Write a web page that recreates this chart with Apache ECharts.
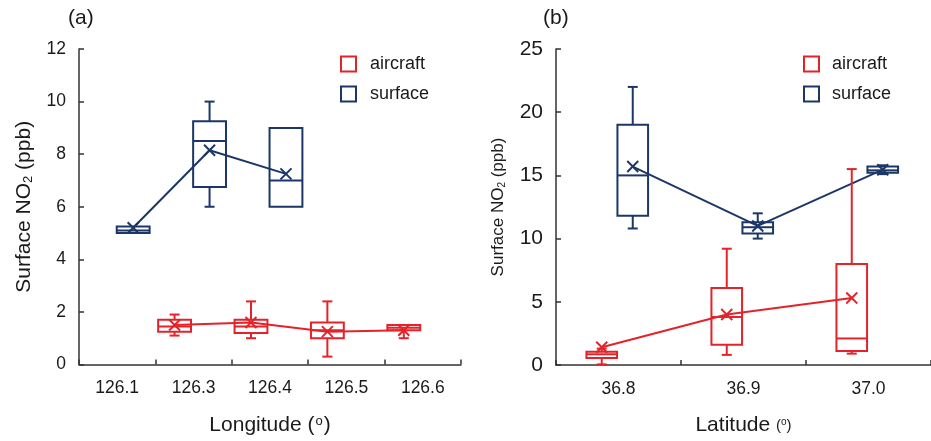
<!DOCTYPE html>
<html><head><meta charset="utf-8">
<script src="https://cdn.jsdelivr.net/npm/echarts@6/dist/echarts.min.js"></script>
<style>html,body{margin:0;padding:0;background:#fff}#c{width:931px;height:441px}</style>
</head><body><div id="c"></div>
<script>
// ---------- data ----------
const lonCategories = ['126.1', '126.3', '126.4', '126.5', '126.6'];
// box: [min, q1, median, q3, max]
const lonAircraftBox = [null, [1.1, 1.25, 1.45, 1.7, 1.9], [1.0, 1.2, 1.45, 1.7, 2.4], [0.3, 1.0, 1.3, 1.6, 2.4], [1.0, 1.3, 1.4, 1.5, 1.5]];
const lonAircraftMean = [null, 1.5, 1.6, 1.25, 1.3];
const lonSurfaceBox = [[5.0, 5.0, 5.1, 5.25, 5.25], [6.0, 6.75, 8.5, 9.25, 10.0], [6.0, 6.0, 7.0, 9.0, 9.0], null, null];
const lonSurfaceMean = [5.2, 8.15, 7.25, null, null];

const latCategories = ['36.8', '36.9', '37.0'];
const latAircraftBox = [[0.05, 0.55, 0.85, 1.05, 1.3], [0.8, 1.6, 3.8, 6.1, 9.2], [0.9, 1.1, 2.1, 8.0, 15.5]];
const latAircraftMean = [1.4, 4.0, 5.3];
const latSurfaceBox = [[10.8, 11.8, 15.0, 19.0, 22.0], [10.0, 10.4, 10.9, 11.3, 12.0], [15.1, 15.2, 15.4, 15.7, 15.8]];
const latSurfaceMean = [15.7, 11.0, 15.45];

const lonYMax = 12, lonYStep = 2;
const latYMax = 25, latYStep = 5;

// ---------- style ----------
const RED = '#e3232a';
const BLUE = '#1b3667';
const AXIS = '#333';
const TEXT = '#1a1a1a';
const FONT = "'Liberation Sans', Arial, sans-serif";

function boxData(boxes, means) {
  const out = [];
  boxes.forEach((b, i) => { if (b) out.push([i].concat(b, [means[i]])); });
  return out;
}
function meanData(means, off) {
  const out = [];
  means.forEach((m, i) => { if (m != null) out.push([i + off, m]); });
  return out;
}
function boxRender(off, widthFrac, color) {
  return function (params, api) {
    const i = api.value(0);
    const mn = api.value(1), q1 = api.value(2), md = api.value(3), q3 = api.value(4), mx = api.value(5), mean = api.value(6);
    const cx = api.coord([i + off, 0])[0];
    const w = api.size([widthFrac, 0])[0];
    const Y = v => api.coord([i + off, v])[1];
    const st = { stroke: color, lineWidth: 2, fill: null };
    const cap = 5;
    const ch = [];
    if (mx > q3) {
      ch.push({ type: 'line', shape: { x1: cx, y1: Y(q3), x2: cx, y2: Y(mx) }, style: st });
      ch.push({ type: 'line', shape: { x1: cx - cap, y1: Y(mx), x2: cx + cap, y2: Y(mx) }, style: st });
    }
    if (mn < q1) {
      ch.push({ type: 'line', shape: { x1: cx, y1: Y(q1), x2: cx, y2: Y(mn) }, style: st });
      ch.push({ type: 'line', shape: { x1: cx - cap, y1: Y(mn), x2: cx + cap, y2: Y(mn) }, style: st });
    }
    ch.push({ type: 'rect', shape: { x: cx - w / 2, y: Y(q3), width: w, height: Y(q1) - Y(q3) }, style: st });
    ch.push({ type: 'line', shape: { x1: cx - w / 2, y1: Y(md), x2: cx + w / 2, y2: Y(md) }, style: st });
    const s = 5.5, my = Y(mean);
    ch.push({ type: 'line', shape: { x1: cx - s, y1: my - s, x2: cx + s, y2: my + s }, style: st });
    ch.push({ type: 'line', shape: { x1: cx - s, y1: my + s, x2: cx + s, y2: my - s }, style: st });
    return { type: 'group', children: ch };
  };
}

// layout constants (category fractions)
const lonOff = { aircraft: -0.249, surface: 0.209 }, lonW = 0.43;
const latOff = { aircraft: -0.134, surface: 0.114 }, latW = 0.245;

function catAxis(grid, cats, nameText, rich) {
  return {
    gridIndex: grid, type: 'category', data: cats, boundaryGap: true,
    axisLine: { show: true, onZero: false, lineStyle: { color: AXIS, width: 1.5 } },
    axisTick: { show: true, inside: true, length: 5, lineStyle: { color: AXIS, width: 1.5 } },
    axisLabel: { fontSize: 17.5, color: TEXT, margin: 15, fontFamily: FONT },
    splitLine: { show: false },
    name: nameText, nameLocation: 'middle', nameGap: 50,
    nameTextStyle: { fontSize: 21, color: TEXT, fontFamily: FONT, rich: rich }
  };
}
function valAxis(grid, max, step, fs, nameSize, gap) {
  return {
    gridIndex: grid, type: 'value', min: 0, max: max, interval: step,
    axisLine: { show: true, onZero: false, lineStyle: { color: AXIS, width: 1.5 } },
    axisTick: { show: true, inside: true, length: 5, lineStyle: { color: AXIS, width: 1.5 } },
    axisLabel: { fontSize: fs, color: TEXT, margin: 13, fontFamily: FONT },
    splitLine: { show: false },
    name: 'Surface NO{sub|2} (ppb)', nameLocation: 'middle', nameGap: gap, nameMoveOverlap: false,
    nameTextStyle: {
      fontSize: nameSize, color: TEXT, fontFamily: FONT,
      rich: { sub: { fontSize: Math.round(nameSize * 0.6), fontFamily: FONT, color: TEXT, padding: [Math.round(nameSize * 0.45), 0, 0, 0] } }
    }
  };
}

const chart = echarts.init(document.getElementById('c'), null, { renderer: 'canvas' });
const legendItem = (name, color) => ({ name: name, itemStyle: { color: 'rgba(0,0,0,0)', borderColor: color, borderWidth: 2 } });

chart.setOption({
  backgroundColor: '#fff',
  animation: false,
  textStyle: { fontFamily: FONT },
  grid: [
    { left: 79, top: 49, width: 382, height: 316 },
    { left: 556, top: 49, width: 382, height: 316 }
  ],
  xAxis: [
    catAxis(0, lonCategories, 'Longitude ({sup|o})', { sup: { fontSize: 13, fontFamily: FONT, color: TEXT, padding: [0, 1, 9, 1] } }),
    { gridIndex: 0, type: 'value', min: -0.5, max: lonCategories.length - 0.5, show: false },
    catAxis(1, latCategories, 'Latitude {sm|(}{sup|o}{sm|)}', {
      sm: { fontSize: 15, fontFamily: FONT, color: TEXT },
      sup: { fontSize: 10, fontFamily: FONT, color: TEXT, padding: [0, 0, 6, 0] }
    }),
    { gridIndex: 1, type: 'value', min: -0.5, max: latCategories.length - 0.5, show: false }
  ],
  yAxis: [
    valAxis(0, lonYMax, lonYStep, 17.5, 21, 44),
    valAxis(1, latYMax, latYStep, 21, 17, 49)
  ],
  legend: [
    {
      left: 340, top: 55, orient: 'vertical', itemWidth: 15, itemHeight: 15, itemGap: 12, icon: 'rect',
      padding: 0, textStyle: { fontSize: 18, color: TEXT, fontFamily: FONT, padding: [0, 0, 0, 9] },
      data: [legendItem('aircraft', RED), legendItem('surface', BLUE)]
    },
    {
      left: 803, top: 55, orient: 'vertical', itemWidth: 15, itemHeight: 15, itemGap: 12, icon: 'rect',
      padding: 0, textStyle: { fontSize: 18, color: TEXT, fontFamily: FONT, padding: [0, 0, 0, 8] },
      data: [legendItem('aircraft', RED), legendItem('surface', BLUE)]
    }
  ],
  graphic: [
    { type: 'text', left: 68, top: 8, style: { text: '(a)', fontSize: 21, fill: TEXT, fontFamily: FONT } },
    { type: 'text', left: 543, top: 8, style: { text: '(b)', fontSize: 21, fill: TEXT, fontFamily: FONT } }
  ],
  series: [
    { name: 'aircraft', type: 'line', xAxisIndex: 1, yAxisIndex: 0, data: meanData(lonAircraftMean, lonOff.aircraft), showSymbol: false, lineStyle: { color: RED, width: 2 }, itemStyle: { color: RED }, z: 2 },
    { name: 'surface', type: 'line', xAxisIndex: 1, yAxisIndex: 0, data: meanData(lonSurfaceMean, lonOff.surface), showSymbol: false, lineStyle: { color: BLUE, width: 2 }, itemStyle: { color: BLUE }, z: 2 },
    { name: 'aircraft', type: 'custom', xAxisIndex: 1, yAxisIndex: 0, renderItem: boxRender(lonOff.aircraft, lonW, RED), data: boxData(lonAircraftBox, lonAircraftMean), encode: { x: 0, y: [1, 5] }, itemStyle: { color: RED }, z: 3 },
    { name: 'surface', type: 'custom', xAxisIndex: 1, yAxisIndex: 0, renderItem: boxRender(lonOff.surface, lonW, BLUE), data: boxData(lonSurfaceBox, lonSurfaceMean), encode: { x: 0, y: [1, 5] }, itemStyle: { color: BLUE }, z: 3 },
    { name: 'aircraft', type: 'line', xAxisIndex: 3, yAxisIndex: 1, data: meanData(latAircraftMean, latOff.aircraft), showSymbol: false, lineStyle: { color: RED, width: 2 }, itemStyle: { color: RED }, z: 2 },
    { name: 'surface', type: 'line', xAxisIndex: 3, yAxisIndex: 1, data: meanData(latSurfaceMean, latOff.surface), showSymbol: false, lineStyle: { color: BLUE, width: 2 }, itemStyle: { color: BLUE }, z: 2 },
    { name: 'aircraft', type: 'custom', xAxisIndex: 3, yAxisIndex: 1, renderItem: boxRender(latOff.aircraft, latW, RED), data: boxData(latAircraftBox, latAircraftMean), encode: { x: 0, y: [1, 5] }, itemStyle: { color: RED }, z: 3 },
    { name: 'surface', type: 'custom', xAxisIndex: 3, yAxisIndex: 1, renderItem: boxRender(latOff.surface, latW, BLUE), data: boxData(latSurfaceBox, latSurfaceMean), encode: { x: 0, y: [1, 5] }, itemStyle: { color: BLUE }, z: 3 }
  ]
});
</script>
</body></html>
